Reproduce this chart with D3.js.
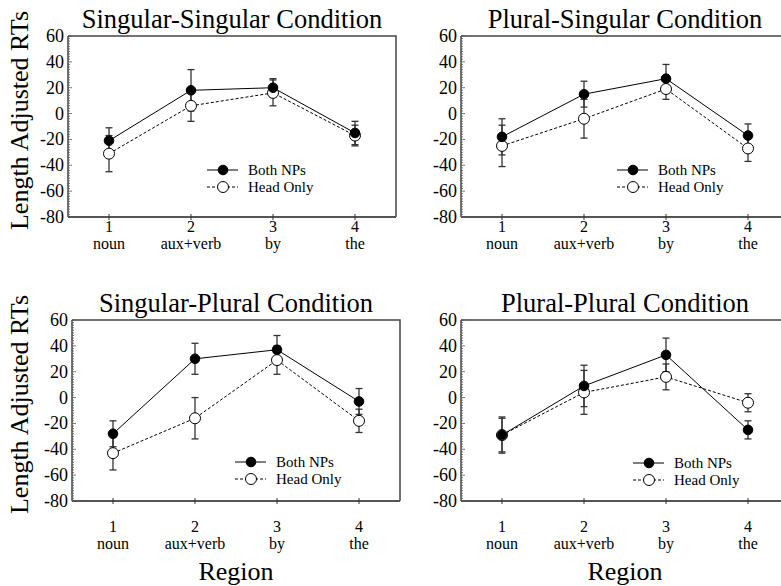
<!DOCTYPE html>
<html>
<head>
<meta charset="utf-8">
<script src="https://cdn.jsdelivr.net/npm/d3@7"></script>
<style>
  body { margin: 0; background: #fff; }
  text { font-family: "Liberation Serif", "Times New Roman", serif; fill: #000; }
</style>
</head>
<body>
<script>
// data
var regionNums = ["1", "2", "3", "4"];
var regionNames = ["noun", "aux+verb", "by", "the"];
var conditions = ["Singular-Singular Condition", "Plural-Singular Condition",
                  "Singular-Plural Condition", "Plural-Plural Condition"];
var seriesNames = ["Both NPs", "Head Only"];
var yTicks = [-80, -60, -40, -20, 0, 20, 40, 60];

var bothMeans = [[-21, 18, 20, -15], [-18, 15, 27, -17], [-28, 30, 37, -3], [-29, 9, 33, -25]];
var bothSE    = [[10, 16, 7, 9],     [14, 10, 11, 9],    [10, 12, 11, 10],  [13, 16, 13, 7]];
var headMeans = [[-31, 6, 16, -17],  [-25, -4, 19, -27], [-43, -16, 29, -18], [-29, 4, 16, -4]];
var headSE    = [[14, 12, 10, 8],    [16, 15, 8, 10],    [13, 16, 11, 9],   [14, 17, 10, 7]];

var w = 781, h = 586;
var pw = 328, ph = 181;
// panel layout (left, top, legend offsets, x label drop)
var panels = [
    {x: 68,  y: 36,  lx: 139, ly: 134, xd: 0},
    {x: 461, y: 36,  lx: 156, ly: 134, xd: 0},
    {x: 72,  y: 320, lx: 163, ly: 142, xd: 16},
    {x: 461, y: 320, lx: 172, ly: 143, xd: 16}
];

var svg = d3.select("body").append("svg")
    .attr("width", w)
    .attr("height", h);

var x = d3.scaleLinear().domain([0.5, 4.5]).range([0, pw]);
var y = d3.scaleLinear().domain([-80, 60]).range([ph, 0]);

panels.forEach(function (p, i) {
    var g = svg.append("g").attr("transform", "translate(" + p.x + "," + p.y + ")");

    // title
    svg.append("text")
        .attr("x", p.x + pw / 2)
        .attr("y", p.y - 8)
        .attr("text-anchor", "middle")
        .style("font-size", "26.5px")
        .text(conditions[i]);

    // frame (top + right)
    g.append("path")
        .attr("d", "M0,0H" + pw + "V" + ph)
        .attr("fill", "none")
        .attr("stroke", "#444")
        .attr("stroke-width", 1.5);

    // left axis with minor ticks
    g.append("line").attr("x1", 0).attr("x2", 0).attr("y1", 0).attr("y2", ph)
        .attr("stroke", "#444").attr("stroke-width", 1.5);
    g.selectAll(".minor")
        .data(d3.range(-80, 61, 2))
        .enter().append("line")
        .attr("x1", 0).attr("x2", function (d) { return d % 20 === 0 ? 4 : 2; })
        .attr("y1", function (d) { return y(d); })
        .attr("y2", function (d) { return y(d); })
        .attr("stroke", "#555")
        .attr("stroke-width", 0.8);
    g.selectAll(".ylab")
        .data(yTicks)
        .enter().append("text")
        .attr("x", -4)
        .attr("y", function (d) { return y(d) + 6; })
        .attr("text-anchor", "end")
        .style("font-size", "18px")
        .text(function (d) { return d; });

    // bottom axis
    g.append("line").attr("x1", 0).attr("x2", pw).attr("y1", ph).attr("y2", ph)
        .attr("stroke", "#555").attr("stroke-width", 2);
    regionNums.forEach(function (r, k) {
        var cx = x(k + 1);
        g.append("line").attr("x1", cx).attr("x2", cx).attr("y1", ph - 3).attr("y2", ph + 3)
            .attr("stroke", "#333").attr("stroke-width", 1);
        g.append("text").attr("x", cx).attr("y", ph + p.xd + 15)
            .attr("text-anchor", "middle").style("font-size", "16px").text(r);
        g.append("text").attr("x", cx).attr("y", ph + p.xd + 32)
            .attr("text-anchor", "middle").style("font-size", "16px").text(regionNames[k]);
    });

    var line = d3.line()
        .x(function (d, k) { return x(k + 1); })
        .y(function (d) { return y(d); });

    var series = [
        {m: bothMeans[i], se: bothSE[i], dash: null, fill: "#000"},
        {m: headMeans[i], se: headSE[i], dash: "3,2", fill: "#fff"}
    ];

    // error bars
    series.forEach(function (s) {
        s.m.forEach(function (v, k) {
            var cx = x(k + 1);
            var eb = g.append("g").attr("stroke", "#333").attr("stroke-width", 1.3);
            eb.append("line").attr("x1", cx).attr("x2", cx)
                .attr("y1", y(v - s.se[k])).attr("y2", y(v + s.se[k]));
            eb.append("line").attr("x1", cx - 3.5).attr("x2", cx + 3.5)
                .attr("y1", y(v - s.se[k])).attr("y2", y(v - s.se[k]));
            eb.append("line").attr("x1", cx - 3.5).attr("x2", cx + 3.5)
                .attr("y1", y(v + s.se[k])).attr("y2", y(v + s.se[k]));
        });
    });

    // lines and markers (head only under both)
    series.slice().reverse().forEach(function (s) {
        g.append("path")
            .attr("d", line(s.m))
            .attr("fill", "none")
            .attr("stroke", "#000")
            .attr("stroke-width", 1)
            .attr("stroke-dasharray", s.dash);
    });
    series.slice().reverse().forEach(function (s) {
        g.selectAll(null)
            .data(s.m)
            .enter().append("circle")
            .attr("cx", function (d, k) { return x(k + 1); })
            .attr("cy", function (d) { return y(d); })
            .attr("r", s.fill === "#000" ? 4.8 : 5.5)
            .attr("fill", s.fill)
            .attr("stroke", "#000")
            .attr("stroke-width", 1);
    });

    // legend
    var lg = g.append("g").attr("transform", "translate(" + p.lx + "," + p.ly + ")");
    series.forEach(function (s, k) {
        var ly = k * 17;
        lg.append("line").attr("x1", 0).attr("x2", 31).attr("y1", ly).attr("y2", ly)
            .attr("stroke", "#000").attr("stroke-width", 1).attr("stroke-dasharray", s.dash);
        lg.append("circle").attr("cx", 16).attr("cy", ly)
            .attr("r", s.fill === "#000" ? 4.8 : 5.5)
            .attr("fill", s.fill).attr("stroke", "#000");
        lg.append("text").attr("x", 41).attr("y", ly + 5)
            .style("font-size", "15px").text(seriesNames[k]);
    });
});

// axis titles
[panels[0], panels[2]].forEach(function (p) {
    svg.append("text")
        .attr("transform", "translate(28," + (p.y + ph / 2 - 6) + ") rotate(-90)")
        .attr("text-anchor", "middle")
        .style("font-size", "26px")
        .text("Length Adjusted RTs");
});
[panels[2], panels[3]].forEach(function (p) {
    svg.append("text")
        .attr("x", p.x + pw / 2)
        .attr("y", 580)
        .attr("text-anchor", "middle")
        .style("font-size", "26px")
        .text("Region");
});
</script>
</body>
</html>
